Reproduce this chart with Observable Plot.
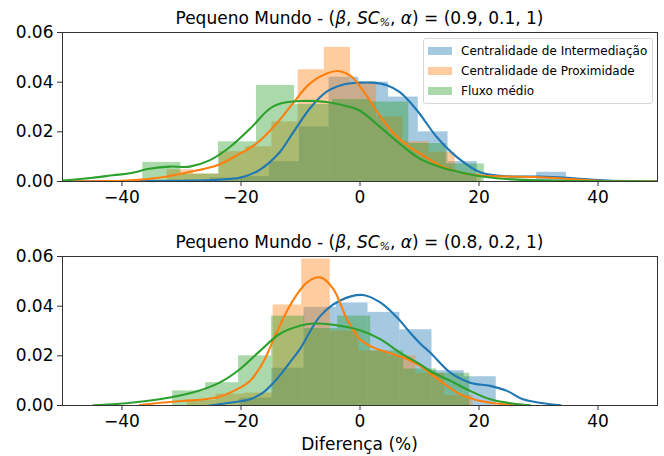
<!DOCTYPE html>
<html>
<head>
<meta charset="utf-8">
<script src="https://cdn.jsdelivr.net/npm/d3@7"></script>
<script src="https://cdn.jsdelivr.net/npm/@observablehq/plot@0.6"></script>
<style>
  html, body { margin: 0; padding: 0; background: #fff; }
  #wrap { position: relative; width: 664px; height: 456px; font-family: "DejaVu Sans", sans-serif; color: #000; overflow: hidden; }
  #wrap svg { position: absolute; left: 0; overflow: visible; }
  .title { position: absolute; left: 62px; width: 595px; text-align: center; font-size: 17px; line-height: 17px; white-space: nowrap; }
  .title .pct { font-size: 11px; vertical-align: -2px; font-style: italic; }
  .xlabel { position: absolute; left: 62px; width: 595px; text-align: center; font-size: 17px; line-height: 17px; top: 436px; }
  .legend { position: absolute; left: 423px; top: 38px; width: 228px; height: 64px; border: 1px solid #d6d6d6; border-radius: 3px; background: rgba(255,255,255,0.8); font-size: 12px; }
  .legend .row { position: absolute; left: 4px; height: 14px; line-height: 14px; white-space: nowrap; }
  .legend .sw { display: inline-block; width: 24px; height: 8px; margin-right: 9px; }
</style>
</head>
<body>
<div id="wrap"></div>
<script>
// ---------- data ----------
const seriesNames = ["Centralidade de Intermediação", "Centralidade de Proximidade", "Fluxo médio"];
const seriesColors = ["#1f77b4", "#ff7f0e", "#2ca02c"];
const titleParams = ["(0.9, 0.1, 1)", "(0.8, 0.2, 1)"];
const xTicks = [-40, -20, 0, 20, 40];
const yTicks = [0, 0.02, 0.04, 0.06];

// Top panel: histogram bin edges / densities
const topBlueEdges = [-25.2, -20.2, -15.2, -10.2, -5.2, -0.2, 4.8, 9.8, 14.8, 19.7, 24.7, 29.7, 34.7];
const topBlueHeights = [0.0015, 0.002, 0.008, 0.022, 0.042, 0.040, 0.034, 0.020, 0.008, 0, 0, 0.0037];
const topOrangeEdges = [-32.4, -28.0, -23.6, -19.2, -14.8, -10.4, -6.0, -1.6, 2.8, 7.2, 11.6, 16.0, 20.4];
const topOrangeHeights = [0.0047, 0.003, 0.012, 0.014, 0.024, 0.045, 0.054, 0.040, 0.026, 0.016, 0.0118, 0.003];
const topGreenEdges = [-36.5, -30.1, -23.8, -17.4, -11.0, -4.6, 1.8, 8.2, 14.5, 20.9];
const topGreenHeights = [0.0077, 0.003, 0.016, 0.0387, 0.031, 0.033, 0.032, 0.0153, 0.0071];

// Top panel: density curves [x, density]
const topBlueKde = [[-50,0],[-40,0.0001],[-30,0.0003],[-25,0.0006],[-20,0.0016],[-16.8,0.0048],[-13.5,0.0118],[-11.3,0.0195],[-8.4,0.0295],[-5.6,0.0362],[-2.9,0.039],[0,0.0398],[2.2,0.0398],[4.5,0.0388],[6.7,0.036],[9.6,0.0286],[12.9,0.0179],[16.3,0.0098],[20.2,0.0037],[24.7,0.0021],[30.3,0.002],[35.9,0.0013],[41.6,0.0004],[47,0.0001],[50,0]];
const topOrangeKde = [[-50,0],[-45,0.0001],[-40,0.0003],[-36,0.0009],[-33.2,0.0017],[-27.5,0.0044],[-24.1,0.0064],[-20.7,0.0105],[-17.3,0.0155],[-14,0.0234],[-11.3,0.0314],[-8.4,0.0395],[-5.6,0.0435],[-3.7,0.0445],[-1.7,0.0427],[0.5,0.0367],[2.8,0.0283],[5.6,0.0195],[8,0.0145],[10.1,0.0112],[13.5,0.0064],[16.8,0.0037],[20.2,0.0024],[24.7,0.002],[30.3,0.0017],[35.9,0.0009],[41,0.0002],[50,0]];
const topGreenKde = [[-50,0.0004],[-44.9,0.0015],[-41.5,0.0025],[-38.7,0.0033],[-35.4,0.0051],[-32,0.006],[-28.6,0.006],[-25.3,0.0085],[-21.9,0.0138],[-18.5,0.0212],[-15.2,0.0293],[-13.5,0.0313],[-10.1,0.0324],[-5.6,0.032],[-1.7,0.030],[0,0.0285],[3.4,0.0219],[6.7,0.0152],[10.1,0.0091],[13.5,0.0058],[16.8,0.0037],[20.2,0.0021],[24.7,0.001],[30,0.0005],[36,0.0002],[50,0]];

// Bottom panel: histogram bin edges / densities
const botBlueEdges = [-20.2, -14.8, -9.4, -4.0, 1.35, 6.7, 12.1, 17.5, 22.9];
const botBlueHeights = [0.003, 0.015, 0.0395, 0.0413, 0.0375, 0.0305, 0.014, 0.0116];
const botOrangeEdges = [-29.0, -24.2, -19.4, -14.6, -9.8, -5.0, -0.2, 4.6, 9.4, 14.2, 19.0];
const botOrangeHeights = [0.002, 0.0046, 0.005, 0.0405, 0.059, 0.030, 0.022, 0.020, 0.013, 0.004];
const botGreenEdges = [-31.5, -25.95, -20.4, -14.85, -9.3, -3.75, 1.8, 7.35, 12.9, 18.45];
const botGreenHeights = [0.0059, 0.0092, 0.020, 0.036, 0.031, 0.036, 0.022, 0.0147, 0.013];

// Bottom panel: density curves [x, density]
const botBlueKde = [[-25.3,0],[-21.9,0.0011],[-18.5,0.0025],[-16.3,0.0052],[-14,0.0106],[-11.8,0.0173],[-10.1,0.0227],[-6.7,0.036],[-3.4,0.0422],[0.5,0.0445],[3.4,0.0415],[6.2,0.0355],[8.4,0.0294],[10.1,0.025],[11.8,0.0213],[15.2,0.0132],[18.5,0.0092],[21.9,0.0079],[24.7,0.0059],[27.4,0.0025],[30.8,0.0009],[33.7,0.0001]];
const botOrangeKde = [[-37,0.0002],[-33,0.0012],[-29.8,0.0018],[-24.1,0.0032],[-20.7,0.0065],[-18.5,0.0099],[-16.3,0.0173],[-14,0.0294],[-11.6,0.041],[-8.9,0.0496],[-6.7,0.0516],[-4.5,0.047],[-2.2,0.0348],[0,0.0267],[2.2,0.0234],[5,0.0211],[7.9,0.0187],[10.1,0.016],[13.5,0.0099],[16.3,0.0052],[19.1,0.0025],[21.9,0.0011],[24.7,0.0004],[26.8,0]];
const botGreenKde = [[-44.8,0.0001],[-39.3,0.0009],[-33.7,0.0025],[-28.1,0.0052],[-23.6,0.0092],[-20.2,0.0146],[-16.8,0.022],[-13.5,0.0288],[-10.1,0.0321],[-7.9,0.033],[-4.5,0.0325],[0,0.0303],[3.4,0.0267],[6.7,0.0213],[10.1,0.0166],[11.8,0.0139],[15.2,0.0099],[18.5,0.0059],[21.9,0.0025],[25.3,0.0009],[28.6,0.0001]];

// ---------- helpers ----------
function bins(edges, heights) {
  return heights.map((h, i) => ({x1: edges[i], x2: edges[i + 1], y: h}));
}
function curve(pts) { return pts.map(([x, y]) => ({x, y})); }
const fmtX = d => d < 0 ? "\u2212" + Math.abs(d) : String(d);
const fmtY = d3.format(".2f");

function panel(hists, kdes, opts) {
  const marks = [];
  // bars first (matplotlib patches sit below lines)
  hists.forEach((h, i) => {
    marks.push(Plot.rectY(bins(h[0], h[1]), {x1: "x1", x2: "x2", y: "y", fill: seriesColors[i], fillOpacity: 0.4}));
  });
  kdes.forEach((k, i) => {
    marks.push(Plot.line(curve(k), {x: "x", y: "y", stroke: seriesColors[i], strokeWidth: 2.1, curve: "catmull-rom"}));
  });
  marks.push(Plot.frame({stroke: "#333", strokeWidth: 1}));
  marks.push(Plot.axisX({ticks: xTicks, tickFormat: fmtX, tickSize: 5, tickPadding: 4, fontSize: 17, label: null, stroke: "#333"}));
  marks.push(Plot.axisY({ticks: yTicks, tickFormat: fmtY, tickSize: 5, tickPadding: 4, fontSize: 17, label: null, stroke: "#333"}));
  return Plot.plot({
    width: 664,
    height: opts.height,
    marginLeft: 62, marginRight: 7, marginTop: 32, marginBottom: opts.marginBottom,
    x: {domain: [-50, 50]},
    y: {domain: [0, 0.06]},
    clip: true,
    style: {fontFamily: "DejaVu Sans, sans-serif", color: "#000", background: "transparent"},
    marks
  });
}

const wrap = document.getElementById("wrap");

const p1 = panel(
  [[topBlueEdges, topBlueHeights], [topOrangeEdges, topOrangeHeights], [topGreenEdges, topGreenHeights]],
  [topBlueKde, topOrangeKde, topGreenKde],
  {height: 211, marginBottom: 30});
p1.style.top = "0px";
wrap.appendChild(p1);

const p2 = panel(
  [[botBlueEdges, botBlueHeights], [botOrangeEdges, botOrangeHeights], [botGreenEdges, botGreenHeights]],
  [botBlueKde, botOrangeKde, botGreenKde],
  {height: 232, marginBottom: 51});
p2.style.top = "224px";
wrap.appendChild(p2);

// titles
[10, 234].forEach((top, i) => {
  const t = document.createElement("div");
  t.className = "title";
  t.style.top = top + "px";
  t.innerHTML = "Pequeno Mundo - (<i>\u03b2</i>, <i>SC</i><span class=\"pct\">%</span>, <i>\u03b1</i>) = " + titleParams[i];
  wrap.appendChild(t);
});

// x label
const xl = document.createElement("div");
xl.className = "xlabel";
xl.textContent = "Diferença (%)";
wrap.appendChild(xl);

// legend
const lg = document.createElement("div");
lg.className = "legend";
seriesNames.forEach((name, i) => {
  const r = document.createElement("div");
  r.className = "row";
  r.style.top = (5 + i * 20) + "px";
  const sw = document.createElement("span");
  sw.className = "sw";
  sw.style.background = seriesColors[i];
  sw.style.opacity = 0.4;
  r.appendChild(sw);
  r.appendChild(document.createTextNode(name));
  lg.appendChild(r);
});
wrap.appendChild(lg);
</script>
</body>
</html>
